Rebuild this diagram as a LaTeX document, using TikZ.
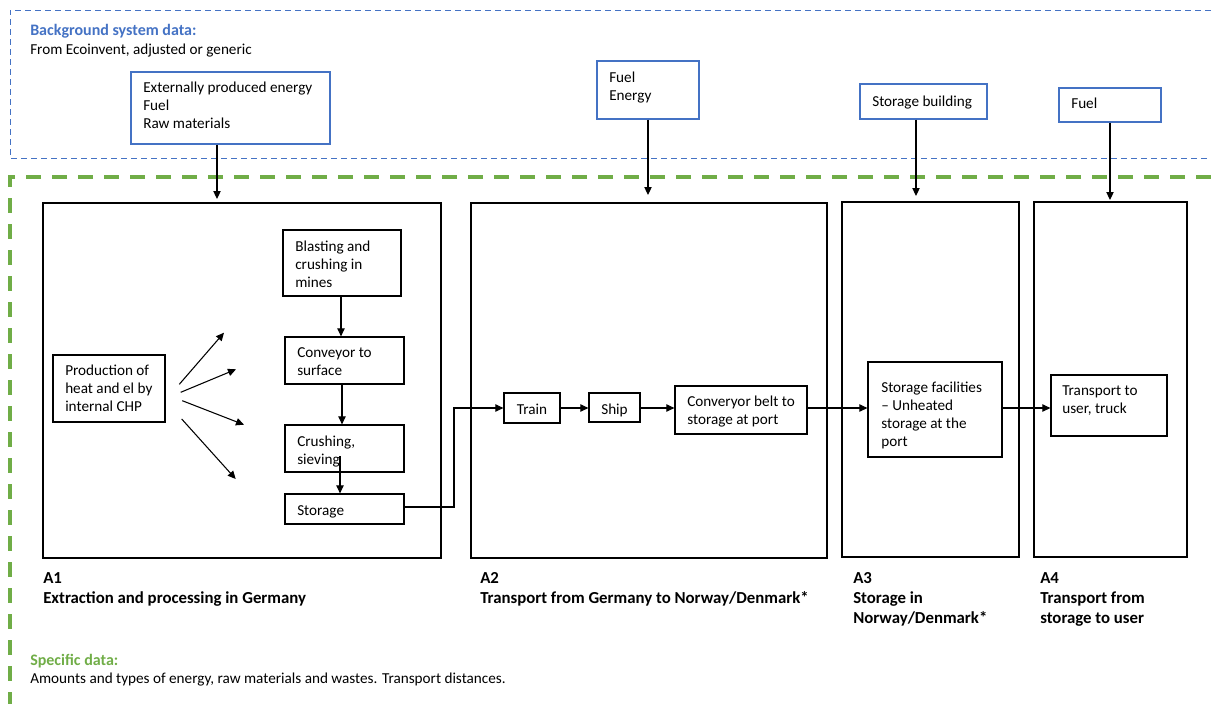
\documentclass[tikz,border=0pt]{standalone}
\usepackage{fontspec}
\setmainfont{Carlito}
\usetikzlibrary{fit,arrows.meta,calc}
\definecolor{bgblue}{HTML}{4472C4}
\definecolor{spgreen}{HTML}{70AD47}
\begin{document}
\begin{tikzpicture}[x=0.75pt,y=-0.75pt,
  bbox/.style={draw=black, line width=0.9pt, inner sep=0pt},
  blbox/.style={draw=bgblue, line width=0.9pt, inner sep=0pt},
  txt/.style={anchor=north west, inner sep=0pt, align=left, font=\fontsize{11.4}{13.5}\selectfont},
  one/.style={anchor=base west, inner sep=0pt, font=\fontsize{11.4}{13.5}\selectfont},
  head/.style={anchor=base west, inner sep=0pt, font=\fontsize{12}{14}\selectfont\bfseries},
  lbl/.style={anchor=north west, inner sep=0pt, align=left, font=\fontsize{12.6}{15}\selectfont\bfseries},
  arr/.style={-{Triangle[length=6pt,width=5.5pt]}, line width=0.8pt},
  bgline/.style={draw=bgblue, line width=0.75pt, dash pattern=on 4.5pt off 3pt},
  spline/.style={draw=spgreen, line width=3pt, dash pattern=on 11.25pt off 8.25pt}
]
\useasboundingbox (0,0) rectangle (1211,704);

% background system frame
\draw[bgline] (1211,10) -- (10,10) -- (10,158) -- (1211,158);
\node[head, text=bgblue] (bgtitle) at (30,35) {Background system data:};
\node[one] (bgsub) at (30,54) {From Ecoinvent, adjusted or generic};

% specific data frame
\draw[spline] (1211,177) -- (10,177) -- (10,704);
\node[head, text=spgreen] (sptitle) at (30,665) {Specific data:};
\node[one] (spsub) at (30,683) {Amounts and types of energy, raw materials and wastes. Transport distances.};

% top input boxes
\node[blbox, fit={(131,72) (330,144)}] (in1) {};
\node[txt] (in1t) at (143,79.4) {\strut Externally produced energy\\Fuel\\Raw materials};
\node[blbox, fit={(597,61) (699,119)}] (in2) {};
\node[txt] (in2t) at (609,69.4) {\strut Fuel\\Energy};
\node[blbox, fit={(860,84) (987,119)}] (in3) {};
\node[one] (in3t) at (872,106) {Storage building};
\node[blbox, fit={(1059,88) (1161,122)}] (in4) {};
\node[one] (in4t) at (1071,108) {Fuel};

% stage boxes
\node[bbox, fit={(43,203) (441,558)}] (A1) {};
\node[bbox, fit={(471,203) (827,558)}] (A2) {};
\node[bbox, fit={(842,202) (1019,557)}] (A3) {};
\node[bbox, fit={(1034,202) (1187,557)}] (A4) {};

\node[lbl] (A1l) at (43,569) {\strut A1\\Extraction and processing in Germany};
\node[lbl] (A2l) at (480,569) {\strut A2\\Transport from Germany to Norway/Denmark*};
\node[lbl] (A3l) at (853,569) {\strut A3\\Storage in\\Norway/Denmark*};
\node[lbl] (A4l) at (1040,569) {\strut A4\\Transport from\\storage to user};

% arrows from inputs
\coordinate (e1) at (217,199);
\coordinate (e2) at (648,195);
\coordinate (e3) at (916,196);
\coordinate (e4) at (1110,200);
\draw[arr] (in1.south -| e1) -- (e1);
\draw[arr] (in2.south -| e2) -- (e2);
\draw[arr] (in3.south -| e3) -- (e3);
\draw[arr] (in4.south -| e4) -- (e4);

% A1 inner
\node[bbox, fit={(283,230) (401,296)}] (blast) {};
\node[txt] (blastt) at (295,238.4) {\strut Blasting and\\crushing in\\mines};
\node[bbox, fit={(285,337) (404,384)}] (conv) {};
\node[txt] (convt) at (297,344.4) {\strut Conveyor to\\surface};
\node[bbox, fit={(285,425) (404,472)}] (crush) {};
\node[txt] (crusht) at (297,433.4) {\strut Crushing,\\sieving};
\node[bbox, fit={(285,494) (404,524)}] (stor) {};
\node[one] (stort) at (297,515) {Storage};
\node[bbox, fit={(53,355) (165,422)}] (chp) {};
\node[txt] (chpt) at (65,362.4) {\strut Production of\\heat and el by\\internal CHP};

\coordinate (c1a) at (179.3,384.3); \coordinate (c1b) at (224,332.7);
\coordinate (c2a) at (180.7,392.3); \coordinate (c2b) at (236,369.3);
\coordinate (c3a) at (182.3,400.7); \coordinate (c3b) at (244,424.7);
\coordinate (c4a) at (181.7,419);   \coordinate (c4b) at (235.7,479);
\draw[arr] (c1a) -- (c1b);
\draw[arr] (c2a) -- (c2b);
\draw[arr] (c3a) -- (c3b);
\draw[arr] (c4a) -- (c4b);

\coordinate (x1) at (341,0);
\coordinate (x2) at (342,0);
\coordinate (cs) at (340,456);
\draw[arr] (blast.south -| x1) -- (conv.north -| x1);
\draw[arr] (conv.south -| x2) -- (crush.north -| x2);
\draw[arr] (cs) -- (stor.north -| cs);

% transport chain
\coordinate (row) at (0,408);
\node[bbox, fit={(504,393) (560,423)}] (train) {};
\node[one, anchor=base] (traint) at (532,414) {Train};
\node[bbox, fit={(589,393) (640,422)}] (ship) {};
\node[one, anchor=base] (shipt) at (614.5,414) {Ship};
\node[bbox, fit={(675,386) (807,434)}] (belt) {};
\node[txt] (beltt) at (687,393.4) {\strut Converyor belt to\\storage at port};
\node[bbox, fit={(868,362) (1002,457)}] (fac) {};
\node[txt] (fact) at (881,379.4) {\strut Storage facilities\\-- Unheated\\storage at the\\port};
\node[bbox, fit={(1051,375) (1167,436)}] (truck) {};
\node[txt] (truckt) at (1062,382.4) {\strut Transport to\\user, truck};

\coordinate (sr) at (404,507);
\draw[arr] (sr) -- (454,507) |- (train.west |- row);
\draw[arr] (train.east |- row) -- (ship.west |- row);
\draw[arr] (ship.east |- row) -- (belt.west |- row);
\draw[arr] (belt.east |- row) -- (fac.west |- row);
\draw[arr] (fac.east |- row) -- (truck.west |- row);
\end{tikzpicture}
\end{document}
